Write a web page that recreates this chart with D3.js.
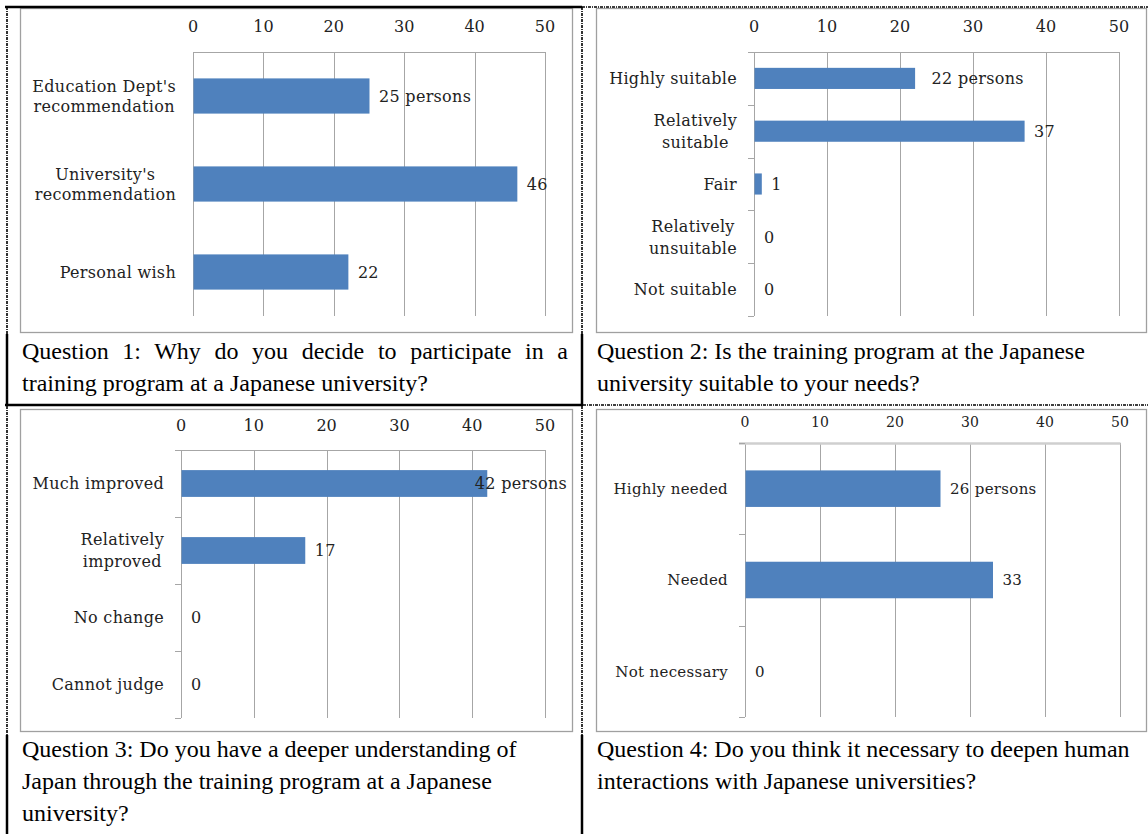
<!DOCTYPE html>
<html>
<head>
<meta charset="utf-8">
<script src="https://cdn.jsdelivr.net/npm/d3@7"></script>
<style>
  body { margin: 0; background: #fff; }
  #page { position: relative; width: 1148px; height: 834px; overflow: hidden; }
  .cap { position: absolute; font-family: "Liberation Serif", "Times New Roman", serif; font-size: 24px; color: #000; white-space: nowrap; line-height: 32px; }
  .just { text-align: justify; text-align-last: justify; }
</style>
</head>
<body>
<div id="page"></div>
<script>
// axis ticks shared by all four charts
const ticks = [0, 10, 20, 30, 40, 50];
const unit = " persons";

// Question 1
const q1Labels = [["Education Dept's", "recommendation"], ["University's", "recommendation"], ["Personal wish"]];
const q1Values = [25, 46, 22];
// Question 2
const q2Labels = [["Highly suitable"], ["Relatively", "suitable"], ["Fair"], ["Relatively", "unsuitable"], ["Not suitable"]];
const q2Values = [22, 37, 1, 0, 0];
// Question 3
const q3Labels = [["Much improved"], ["Relatively", "improved"], ["No change"], ["Cannot judge"]];
const q3Values = [42, 17, 0, 0];
// Question 4
const q4Labels = [["Highly needed"], ["Needed"], ["Not necessary"]];
const q4Values = [26, 33, 0];

const q1Caption = ["Question 1: Why do you decide to participate in a", "training program at a Japanese university?"];
const q2Caption = ["Question 2: Is the training program at the Japanese", "university suitable to your needs?"];
const q3Caption = ["Question 3: Do you have a deeper understanding of", "Japan through the training program at a Japanese", "university?"];
const q4Caption = ["Question 4: Do you think it necessary to deepen human", "interactions with Japanese universities?"];

const panels = [
    { labels: q1Labels, values: q1Values, frame: [20, 8, 552, 324], x0: 193, x1: 545, top: 52, bottom: 316,
      tickY: 32, font: 16, tickFont: 16, catTicks: false, lineH: 20, nudge: [0, 0, 0] },
    { labels: q2Labels, values: q2Values, frame: [596, 8, 550, 324], x0: 754, x1: 1119, top: 52, bottom: 316,
      tickY: 32, font: 16, tickFont: 16, catTicks: true, lineH: 22, nudge: [7, 0, 0, 0, 0] },
    { labels: q3Labels, values: q3Values, frame: [20, 409, 552, 322], x0: 181, x1: 545, top: 450, bottom: 718,
      tickY: 431, font: 16, tickFont: 16, catTicks: true, lineH: 22, nudge: [0, 0, 0, 0] },
    { labels: q4Labels, values: q4Values, frame: [596, 409, 550, 322], x0: 745, x1: 1120, top: 443, bottom: 717,
      tickY: 427, font: 15, tickFont: 14, catTicks: true, lineH: 22, nudge: [0, 0, 0], thickTop: true }
];

const svg = d3.select("#page").append("svg")
    .attr("width", 1148)
    .attr("height", 834)
    .style("position", "absolute")
    .style("left", 0)
    .style("top", 0);

const serif = "'DejaVu Serif', serif";
const gridColor = "#a6a6a6";
const spacing = "0.3px";

panels.forEach(p => {
    const g = svg.append("g");
    const f = p.frame;

    g.append("rect")
        .attr("x", f[0] + 0.5).attr("y", f[1] + 0.5)
        .attr("width", f[2]).attr("height", f[3])
        .attr("fill", "#fff")
        .attr("stroke", "#a0a0a0")
        .attr("stroke-width", 1.3);

    const x = d3.scaleLinear().domain([0, 50]).range([p.x0, p.x1]);
    const y = d3.scaleBand().domain(d3.range(p.values.length)).range([p.top, p.bottom]).paddingInner(0.6).paddingOuter(0.3);
    const bandEdges = d3.range(p.values.length + 1).map(i => p.top + i * (p.bottom - p.top) / p.values.length);

    // vertical grid lines
    g.selectAll(".grid").data(ticks).enter().append("line")
        .attr("x1", d => Math.round(x(d)) + 0.5).attr("x2", d => Math.round(x(d)) + 0.5)
        .attr("y1", p.top).attr("y2", p.bottom)
        .attr("stroke", gridColor).attr("stroke-width", 1);

    // top value axis line
    g.append("line")
        .attr("x1", p.catTicks ? p.x0 - 6 : p.x0).attr("x2", p.x1 + 0.5)
        .attr("y1", p.top + 0.5).attr("y2", p.top + 0.5)
        .attr("stroke", p.thickTop ? "#cfcfcf" : gridColor)
        .attr("stroke-width", p.thickTop ? 2.5 : 1);

    // category ticks on left
    if (p.catTicks) {
        g.selectAll(".ctick").data(bandEdges).enter().append("line")
            .attr("x1", p.x0 - 6).attr("x2", p.x0)
            .attr("y1", d => Math.round(d) + 0.5).attr("y2", d => Math.round(d) + 0.5)
            .attr("stroke", gridColor).attr("stroke-width", 1);
    }

    // tick labels at top
    g.selectAll(".tl").data(ticks).enter().append("text")
        .attr("x", d => x(d)).attr("y", p.tickY)
        .attr("text-anchor", "middle")
        .style("font-family", serif).style("font-size", p.tickFont + "px")
        .attr("fill", "#222")
        .text(d => d);

    // bars
    g.selectAll(".bar").data(p.values).enter().append("rect")
        .attr("x", x(0) + 0.5)
        .attr("y", (d, i) => y(i))
        .attr("width", d => x(d) - x(0))
        .attr("height", y.bandwidth())
        .attr("fill", "#4f81bd");

    // category labels: multi-line block centred, block right-aligned
    p.labels.forEach((lines, i) => {
        const cy = y(i) + y.bandwidth() / 2;
        const t = g.append("text")
            .style("font-family", serif).style("font-size", p.font + "px")
            .style("letter-spacing", spacing)
            .attr("fill", "#222");
        const spans = lines.map((s, k) => t.append("tspan")
            .attr("y", cy + (k - (lines.length - 1) / 2) * p.lineH + p.font * 0.36)
            .text(s));
        const widths = spans.map(s => s.node().getComputedTextLength());
        const maxW = d3.max(widths);
        const right = p.x0 - 17;
        spans.forEach(s => s.attr("x", right - maxW / 2).attr("text-anchor", "middle"));
    });

    // value labels
    p.values.forEach((v, i) => {
        const cy = y(i) + y.bandwidth() / 2;
        const t = g.append("text")
            .attr("y", cy + p.font * 0.36)
            .style("font-family", serif).style("font-size", p.font + "px")
            .style("letter-spacing", spacing)
            .attr("fill", "#222")
            .text(v + (i === 0 ? unit : ""));
        const w = t.node().getComputedTextLength();
        let lx = x(v) + 10 + p.nudge[i];
        const limit = f[0] + f[2] - 5;
        if (lx + w > limit) lx = limit - w;
        t.attr("x", lx);
    });
});

// table borders
const solid = (x1, y1, x2, y2) => svg.append("line")
    .attr("x1", x1).attr("y1", y1).attr("x2", x2).attr("y2", y2)
    .attr("stroke", "#000").attr("stroke-width", 2.5);
const dotted = (x1, y1, x2, y2) => svg.append("line")
    .attr("x1", x1).attr("y1", y1).attr("x2", x2).attr("y2", y2)
    .attr("stroke", "#000").attr("stroke-width", 1.6)
    .attr("stroke-dasharray", "3,1,1,1");

solid(5, 7, 582, 7);
dotted(582, 7, 1148, 7);
[7, 582].forEach(bx => {
    dotted(bx, 7, bx, 334);
    solid(bx, 334, bx, 406);
    dotted(bx, 406, bx, 735);
    solid(bx, 735, bx, 834);
});
solid(5, 405, 583, 405);
dotted(583, 405, 1148, 405);

// captions
const captionBoxes = [
    { lines: q1Caption, x: 22, y: 335, w: 546, justify: [true, false] },
    { lines: q2Caption, x: 597, y: 335, w: 540, justify: [false, false] },
    { lines: q3Caption, x: 22, y: 733, w: 546, justify: [false, false, false] },
    { lines: q4Caption, x: 597, y: 733, w: 540, justify: [false, false] }
];
captionBoxes.forEach(c => {
    c.lines.forEach((s, k) => {
        d3.select("#page").append("div")
            .attr("class", "cap" + (c.justify[k] ? " just" : ""))
            .style("left", c.x + "px")
            .style("top", (c.y + k * 32) + "px")
            .style("width", c.w + "px")
            .text(s);
    });
});
</script>
</body>
</html>
